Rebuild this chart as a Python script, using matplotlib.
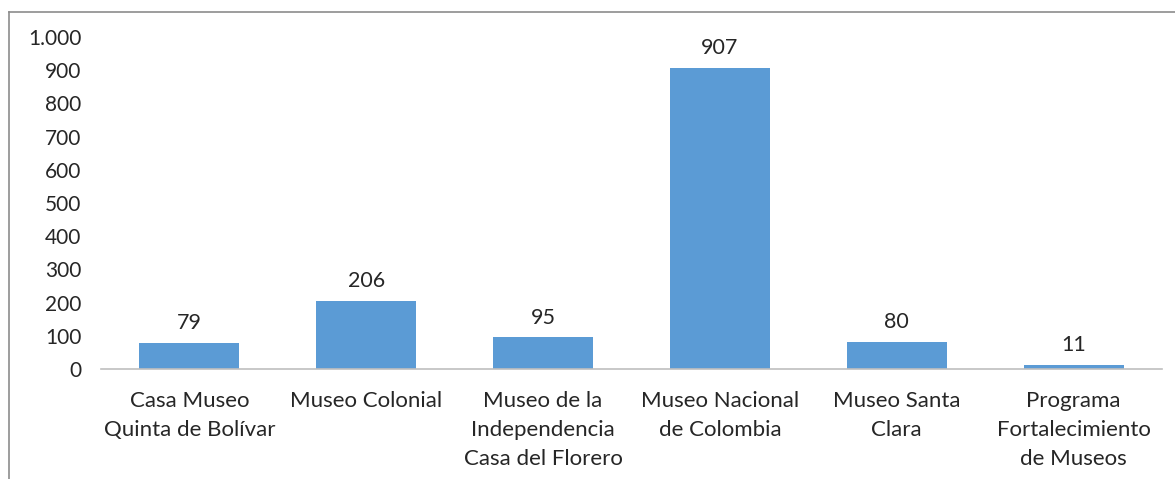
import matplotlib
matplotlib.use("Agg")
import matplotlib.pyplot as plt
from matplotlib.lines import Line2D
from matplotlib.ticker import FuncFormatter

categorias = [
    "Casa Museo\nQuinta de Bolívar",
    "Museo Colonial",
    "Museo de la\nIndependencia\nCasa del Florero",
    "Museo Nacional\nde Colombia",
    "Museo Santa\nClara",
    "Programa\nFortalecimiento\nde Museos",
]
valores = [79, 206, 95, 907, 80, 11]

plt.rcParams["font.family"] = ["Lato", "DejaVu Sans"]
W, H = 1175, 479
fig = plt.figure(figsize=(W / 100, H / 100), dpi=100)
ax = fig.add_axes([101 / W, 1 - 369 / H, (1162 - 101) / W, (369 - 37) / H])

color = "#5B9BD5"
x = range(len(valores))
bars = ax.bar(x, valores, width=0.565, color=color, zorder=2)
for b, v in zip(bars, valores):
    ax.text(b.get_x() + b.get_width() / 2, v + 30, str(v), ha="center", va="bottom",
            fontsize=15.5, color="#262626")

ax.set_xlim(-0.5, len(valores) - 0.5)
ax.set_ylim(0, 1000)
ax.set_yticks(range(0, 1001, 100))
ax.yaxis.set_major_formatter(FuncFormatter(lambda v, p: f"{int(v):,}".replace(",", ".")))
ax.set_xticks(list(x))
ax.set_xticklabels(categorias, fontsize=16, color="#262626", linespacing=1.55)
ax.tick_params(axis="y", length=0, labelsize=15, labelcolor="#262626", pad=14)
ax.tick_params(axis="x", length=0, pad=16)
for s in ["top", "right", "left"]:
    ax.spines[s].set_visible(False)
ax.spines["bottom"].set_color("#BFBFBF")
ax.spines["bottom"].set_linewidth(1.2)

# marco exterior (solo arriba e izquierda visibles)
fig.add_artist(Line2D([9 / W, 9 / W], [0, 1 - 12 / H], color="#8C8C8C", lw=1.2))
fig.add_artist(Line2D([9 / W, 1], [1 - 12 / H, 1 - 12 / H], color="#8C8C8C", lw=1.2))

fig.savefig("out.png", dpi=100)
